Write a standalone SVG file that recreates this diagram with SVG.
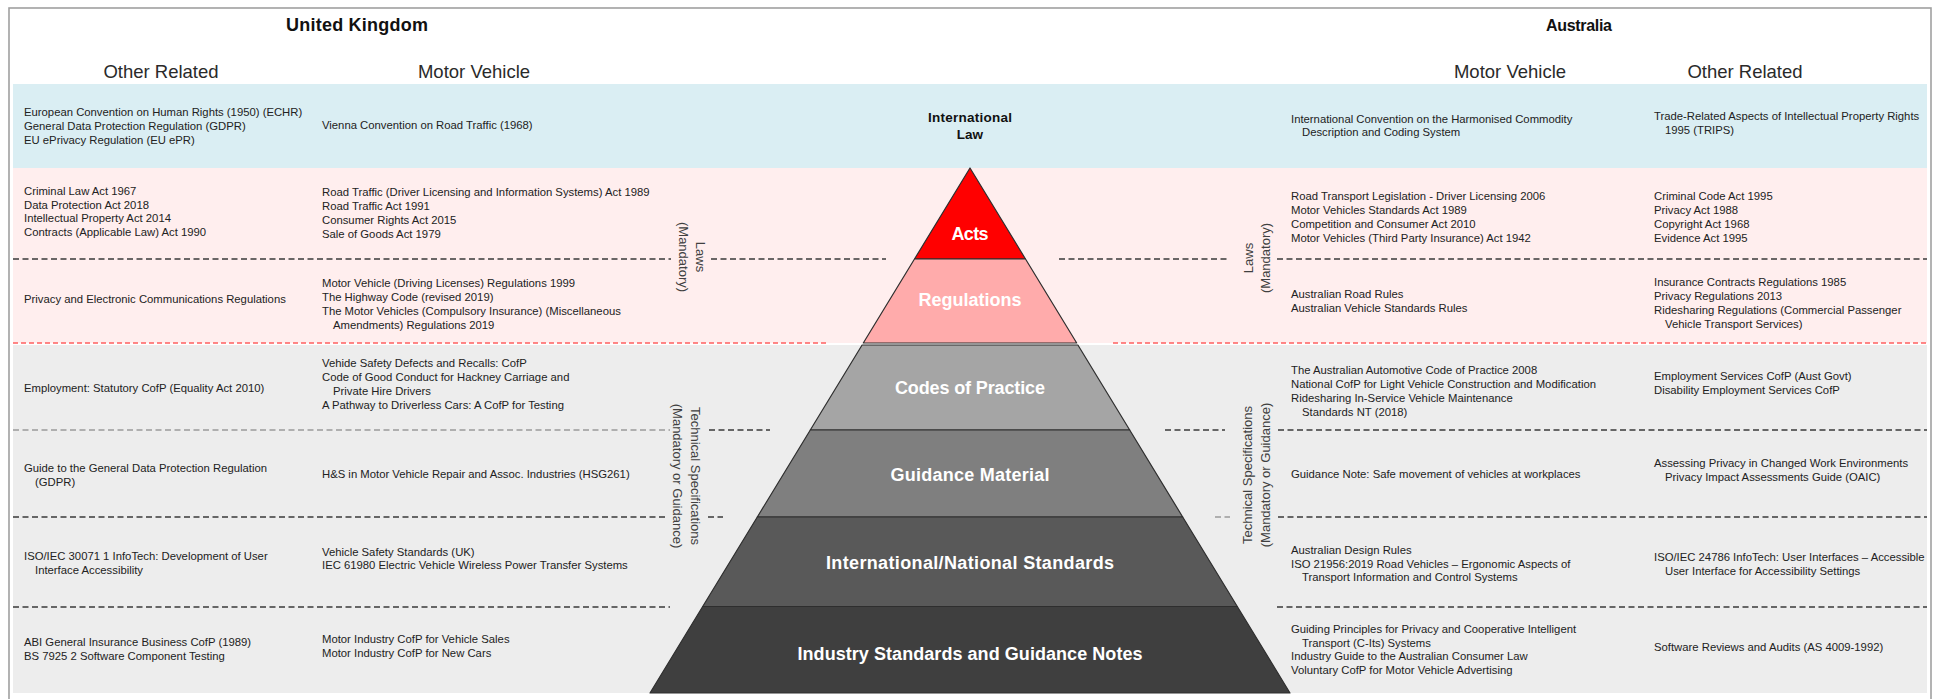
<svg xmlns="http://www.w3.org/2000/svg" width="1940" height="699" viewBox="0 0 1940 699">
<style>
text{font-family:"Liberation Sans",Arial,sans-serif;}
.t{font-size:11.3px;fill:#222;}
.h1{font-weight:bold;fill:#111;text-anchor:middle;}
.h2{font-size:18.5px;fill:#2a2a2a;text-anchor:middle;}
.pl{font-weight:bold;font-size:18px;fill:#fff;text-anchor:middle;}
.il{font-weight:bold;font-size:13.5px;fill:#111;text-anchor:middle;}
.side{font-size:13px;fill:#404040;text-anchor:middle;}
.dk{stroke:#3a3a3a;stroke-width:1.4;stroke-dasharray:6 3.5;fill:none;}
.lt{stroke:#9a9a9a;stroke-width:1.4;stroke-dasharray:6 3.5;fill:none;}
.rd{stroke:#ff6060;stroke-width:1.3;stroke-dasharray:5 3;fill:none;}
.lay{stroke:#2e2e2e;stroke-width:1.2;stroke-linejoin:round;}
</style>
<rect x="0" y="0" width="1940" height="699" fill="#fff"/>
<rect x="9" y="8" width="1922" height="705" fill="none" stroke="#a0a0a0" stroke-width="1.6"/>
<g id="bands">
<rect x="13" y="84" width="1914" height="84" fill="#daeef3"/>
<rect x="13" y="168" width="1914" height="175" fill="#ffeeee"/>
<rect x="13" y="345" width="1914" height="348" fill="#ededed"/>
</g>
<g id="headers">
<text class="h1" x="357" y="31" font-size="18" textLength="142">United Kingdom</text>
<text class="h1" x="1579" y="31" font-size="16" textLength="66">Australia</text>
<text class="h2" x="161" y="77.5">Other Related</text>
<text class="h2" x="474" y="77.5">Motor Vehicle</text>
<text class="h2" x="1510" y="77.5">Motor Vehicle</text>
<text class="h2" x="1745" y="77.5">Other Related</text>
</g>
<g id="connectors">
<line class="dk" x1="13" y1="259" x2="671" y2="259"/>
<line class="dk" x1="711" y1="259" x2="886" y2="259"/>
<line class="dk" x1="1059" y1="259" x2="1229" y2="259"/>
<line class="dk" x1="1277" y1="259" x2="1927" y2="259"/>
<line class="rd" x1="13" y1="343" x2="826" y2="343"/>
<line class="rd" x1="1113" y1="343" x2="1927" y2="343"/>
<line class="lt" x1="13" y1="430" x2="670" y2="430"/>
<line class="dk" x1="709" y1="430" x2="770" y2="430"/>
<line class="dk" x1="1165" y1="430" x2="1225" y2="430"/>
<line class="dk" x1="1278" y1="430" x2="1927" y2="430"/>
<line class="dk" x1="13" y1="517" x2="668" y2="517"/>
<line class="dk" x1="708" y1="517" x2="723" y2="517"/>
<line class="lt" x1="1215" y1="517" x2="1230" y2="517"/>
<line class="dk" x1="1278" y1="517" x2="1927" y2="517"/>
<line class="dk" x1="13" y1="607" x2="670" y2="607"/>
<line class="dk" x1="1277" y1="607" x2="1927" y2="607"/>
</g>
<g id="side-labels">
<g transform="translate(691.5,257) rotate(90)"><text class="side" x="0" y="-4">Laws</text><text class="side" x="0" y="13">(Mandatory)</text></g>
<g transform="translate(686,476) rotate(90)"><text class="side" x="0" y="-4.5">Technical Specifications</text><text class="side" x="0" y="13.5">(Mandatory or Guidance)</text></g>
<g transform="translate(1256.5,258) rotate(-90)"><text class="side" x="0" y="-4">Laws</text><text class="side" x="0" y="13">(Mandatory)</text></g>
<g transform="translate(1256.5,475) rotate(-90)"><text class="side" x="0" y="-4.5">Technical Specifications</text><text class="side" x="0" y="13.5">(Mandatory or Guidance)</text></g>
</g>
<g id="international-law">
<text class="il" x="970" y="121.5" textLength="84">International</text>
<text class="il" x="970" y="138.5">Law</text>
</g>
<g id="acts"><polygon class="lay" points="970,168 1025.5,259 914.5,259" fill="#ff0000"/><text class="pl" x="970" y="239.5" textLength="37">Acts</text></g>
<g id="regulations"><polygon class="lay" points="914.5,259 1025.5,259 1076.7,343 863.3,343" fill="#ffabab"/><text class="pl" x="970" y="305.5" textLength="103">Regulations</text></g>
<g id="codes-of-practice"><polygon class="lay" points="862.1,345 1077.9,345 1129.7,430 810.3,430" fill="#a5a5a5"/><text class="pl" x="970" y="393.5" textLength="150">Codes of Practice</text></g>
<g id="guidance-material"><polygon class="lay" points="810.3,430 1129.7,430 1182.7,517 757.3,517" fill="#7f7f7f"/><text class="pl" x="970" y="480.5" textLength="159">Guidance Material</text></g>
<g id="standards"><polygon class="lay" points="757.3,517 1182.7,517 1237.3,606.5 702.7,606.5" fill="#595959"/><text class="pl" x="970" y="568.5" textLength="288">International/National Standards</text></g>
<g id="industry"><polygon class="lay" points="702.7,606.5 1237.3,606.5 1290,693 650,693" fill="#3f3f3f"/><text class="pl" x="970" y="659.5" textLength="345">Industry Standards and Guidance Notes</text></g>
<g id="uk-other-related">
<text class="t"><tspan x="24" y="116.1">European Convention on Human Rights (1950) (ECHR)</tspan><tspan x="24" y="130">General Data Protection Regulation (GDPR)</tspan><tspan x="24" y="143.9">EU ePrivacy Regulation (EU ePR)</tspan></text>
<text class="t"><tspan x="24" y="194.65">Criminal Law Act 1967</tspan><tspan x="24" y="208.55">Data Protection Act 2018</tspan><tspan x="24" y="222.45">Intellectual Property Act 2014</tspan><tspan x="24" y="236.35">Contracts (Applicable Law) Act 1990</tspan></text>
<text class="t" x="24" y="303">Privacy and Electronic Communications Regulations</text>
<text class="t" x="24" y="392">Employment: Statutory CofP (Equality Act 2010)</text>
<text class="t"><tspan x="24" y="472">Guide to the General Data Protection Regulation</tspan><tspan x="35" y="486">(GDPR)</tspan></text>
<text class="t"><tspan x="24" y="560">ISO/IEC 30071 1 InfoTech: Development of User</tspan><tspan x="35" y="574">Interface Accessibility</tspan></text>
<text class="t"><tspan x="24" y="646">ABI General Insurance Business CofP (1989)</tspan><tspan x="24" y="660">BS 7925 2 Software Component Testing</tspan></text>
</g>
<g id="uk-motor-vehicle">
<text class="t" x="322" y="129">Vienna Convention on Road Traffic (1968)</text>
<text class="t"><tspan x="322" y="196.15">Road Traffic (Driver Licensing and Information Systems) Act 1989</tspan><tspan x="322" y="210.05">Road Traffic Act 1991</tspan><tspan x="322" y="223.95">Consumer Rights Act 2015</tspan><tspan x="322" y="237.85">Sale of Goods Act 1979</tspan></text>
<text class="t"><tspan x="322" y="287.15">Motor Vehicle (Driving Licenses) Regulations 1999</tspan><tspan x="322" y="301.05">The Highway Code (revised 2019)</tspan><tspan x="322" y="314.95">The Motor Vehicles (Compulsory Insurance) (Miscellaneous</tspan><tspan x="333" y="328.85">Amendments) Regulations 2019</tspan></text>
<text class="t"><tspan x="322" y="367.15">Vehide Safety Defects and Recalls: CofP</tspan><tspan x="322" y="381.05">Code of Good Conduct for Hackney Carriage and</tspan><tspan x="333" y="394.95">Private Hire Drivers</tspan><tspan x="322" y="408.85">A Pathway to Driverless Cars: A CofP for Testing</tspan></text>
<text class="t" x="322" y="478">H&amp;S in Motor Vehicle Repair and Assoc. Industries (HSG261)</text>
<text class="t"><tspan x="322" y="555.5">Vehicle Safety Standards (UK)</tspan><tspan x="322" y="569.4">IEC 61980 Electric Vehicle Wireless Power Transfer Systems</tspan></text>
<text class="t"><tspan x="322" y="643">Motor Industry CofP for Vehicle Sales</tspan><tspan x="322" y="657">Motor Industry CofP for New Cars</tspan></text>
</g>
<g id="au-motor-vehicle">
<text class="t"><tspan x="1291" y="122.5">International Convention on the Harmonised Commodity</tspan><tspan x="1302" y="136.4">Description and Coding System</tspan></text>
<text class="t"><tspan x="1291" y="200.15">Road Transport Legislation - Driver Licensing 2006</tspan><tspan x="1291" y="214.05">Motor Vehicles Standards Act 1989</tspan><tspan x="1291" y="227.95">Competition and Consumer Act 2010</tspan><tspan x="1291" y="241.85">Motor Vehicles (Third Party Insurance) Act 1942</tspan></text>
<text class="t"><tspan x="1291" y="297.7">Australian Road Rules</tspan><tspan x="1291" y="311.6">Australian Vehicle Standards Rules</tspan></text>
<text class="t"><tspan x="1291" y="374.15">The Australian Automotive Code of Practice 2008</tspan><tspan x="1291" y="388.05">National CofP for Light Vehicle Construction and Modification</tspan><tspan x="1291" y="401.95">Ridesharing In-Service Vehicle Maintenance</tspan><tspan x="1302" y="415.85">Standards NT (2018)</tspan></text>
<text class="t" x="1291" y="478">Guidance Note: Safe movement of vehicles at workplaces</text>
<text class="t"><tspan x="1291" y="553.6">Australian Design Rules</tspan><tspan x="1291" y="567.5">ISO 21956:2019 Road Vehicles – Ergonomic Aspects of</tspan><tspan x="1302" y="581.4">Transport Information and Control Systems</tspan></text>
<text class="t"><tspan x="1291" y="632.65">Guiding Principles for Privacy and Cooperative Intelligent</tspan><tspan x="1302" y="646.55">Transport (C-Its) Systems</tspan><tspan x="1291" y="660.45">Industry Guide to the Australian Consumer Law</tspan><tspan x="1291" y="674.35">Voluntary CofP for Motor Vehicle Advertising</tspan></text>
</g>
<g id="au-other-related">
<text class="t"><tspan x="1654" y="120">Trade-Related Aspects of Intellectual Property Rights</tspan><tspan x="1665" y="134">1995 (TRIPS)</tspan></text>
<text class="t"><tspan x="1654" y="200.15">Criminal Code Act 1995</tspan><tspan x="1654" y="214.05">Privacy Act 1988</tspan><tspan x="1654" y="227.95">Copyright Act 1968</tspan><tspan x="1654" y="241.85">Evidence Act 1995</tspan></text>
<text class="t"><tspan x="1654" y="286.15">Insurance Contracts Regulations 1985</tspan><tspan x="1654" y="300.05">Privacy Regulations 2013</tspan><tspan x="1654" y="313.95">Ridesharing Regulations (Commercial Passenger</tspan><tspan x="1665" y="327.85">Vehicle Transport Services)</tspan></text>
<text class="t"><tspan x="1654" y="380">Employment Services CofP (Aust Govt)</tspan><tspan x="1654" y="394">Disability Employment Services CofP</tspan></text>
<text class="t"><tspan x="1654" y="466.7">Assessing Privacy in Changed Work Environments</tspan><tspan x="1665" y="480.6">Privacy Impact Assessments Guide (OAIC)</tspan></text>
<text class="t"><tspan x="1654" y="561">ISO/IEC 24786 InfoTech: User Interfaces – Accessible</tspan><tspan x="1665" y="575">User Interface for Accessibility Settings</tspan></text>
<text class="t" x="1654" y="651">Software Reviews and Audits (AS 4009-1992)</text>
</g>
</svg>
